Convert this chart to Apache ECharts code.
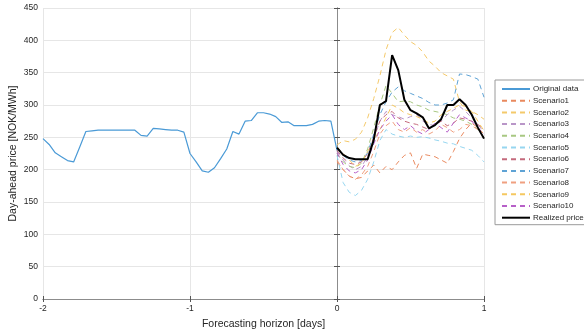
<!DOCTYPE html>
<html><head><meta charset="utf-8">
<script src="https://cdn.jsdelivr.net/npm/echarts@6/dist/echarts.min.js"></script>
<style>html,body{margin:0;padding:0;background:#fff}#c{width:584px;height:336px}</style>
</head><body><div id="c"></div>
<script>
// Hourly values; history covers -2..0 days, scenarios 0..1 day
const originalData = [248,239,226,220,214,212,235,259,260,261,261,261,261,261,261,261,253,252,264,263,262,261,261,258,225,212,198,196,203,217,232,259,255,275,276,288,288,286,282,273,274,268,268,268,270,275,276,275,230];
const scenario1 = [212,200,190,186,188,198,207,195,205,200,212,222,226,202,224,222,220,215,210,228,248,262,272,265,255];
const scenario2 = [238,245,243,247,258,280,310,345,385,412,420,408,398,392,382,368,360,350,345,340,305,292,290,285,278];
const scenario3 = [228,215,206,200,205,220,248,275,290,285,282,278,282,285,275,270,268,275,285,292,298,290,280,270,258];
const scenario4 = [225,212,205,203,210,232,265,300,330,318,305,306,305,300,297,292,290,288,285,280,278,275,270,262,250];
const scenario5 = [222,180,165,160,168,185,212,245,262,255,252,250,252,250,251,249,246,244,241,240,236,233,230,222,212];
const scenario6 = [230,218,210,208,212,225,250,275,285,290,280,275,272,270,266,262,270,275,268,272,280,278,275,270,262];
const scenario7 = [232,222,215,212,214,226,255,285,305,320,328,322,318,314,310,304,300,300,303,308,348,347,344,340,312];
const scenario8 = [215,200,190,185,192,205,228,255,268,275,262,258,265,258,262,255,260,270,265,258,262,270,268,262,250];
const scenario9 = [235,225,215,205,210,228,245,262,280,300,295,288,285,282,278,272,275,285,290,295,300,298,290,275,260];
const scenario10 = [226,208,198,195,200,215,240,262,275,285,270,262,268,260,255,262,272,265,258,272,285,280,275,265,255];
const realizedPrice = [234,223,218,216,216,216,246,300,306,377,354,308,292,287,281,264,269,278,300,300,309,300,285,265,248];
const xTicks = [-2,-1,0,1];
const yTicks = [0,50,100,150,200,250,300,350,400,450];

const scenarios = [scenario1,scenario2,scenario3,scenario4,scenario5,scenario6,scenario7,scenario8,scenario9,scenario10];
const scenColors = ['#e9895e','#f4c96a','#b996c8','#a8c882','#96d6f0','#c46a7c','#5fa3d5','#f0a080','#f5c860','#b760c8'];

const hist = originalData.map((v,i)=>[-2 + i/24, v]);
const fut = arr => arr.map((v,i)=>[i/24, v]);
const FONT = 'Liberation Sans';

const series = [{
  name:'Original data', type:'line', data:hist, showSymbol:false, symbol:'none',
  lineStyle:{color:'#4a9ad6', width:1.2}, itemStyle:{color:'#4a9ad6'}, z:3
}];
scenarios.forEach((s,k)=>{
  series.push({name:'Scenario'+(k+1), type:'line', data:fut(s), showSymbol:false, symbol:'none',
    lineStyle:{color:scenColors[k], width:1, type:[5,4]}, itemStyle:{color:scenColors[k]}, z:3});
});
series.push({name:'Realized price', type:'line', data:fut(realizedPrice), showSymbol:false, symbol:'none',
  lineStyle:{color:'#000', width:2}, itemStyle:{color:'#000'}, z:5});

const axisCommon = {
  axisLine:{show:true, lineStyle:{color:'#8c8c8c', width:1}},
  axisTick:{show:true, inside:true, length:3, lineStyle:{color:'#555'}},
  splitLine:{show:true, lineStyle:{color:'#e6e6e6', width:1}}
};

const chart = echarts.init(document.getElementById('c'), null, {renderer:'canvas'});
chart.setOption({
  animation:false,
  textStyle:{fontFamily:FONT},
  grid:{left:43, right:100, top:8, bottom:37, containLabel:false, outerBoundsMode:'none'},
  legend:{
    orient:'vertical', left:495, top:80,
    padding:[5,30,3,6], itemGap:3.7, itemWidth:28, itemHeight:8,
    borderColor:'#9a9a9a', borderWidth:1, backgroundColor:'#fff',
    itemStyle:{opacity:0},
    textStyle:{fontFamily:FONT, fontSize:8, color:'#262626', lineHeight:8, padding:[0,0,0,-2]},
    data: series.map(s=>s.name)
  },
  xAxis:[{
    type:'value', min:-2, max:1, interval:1, ...axisCommon,
    name:'Forecasting horizon [days]', nameLocation:'middle', nameGap:20, nameMoveOverlap:false,
    nameTextStyle:{fontFamily:FONT, fontSize:10.5, color:'#262626'},
    axisLabel:{fontFamily:FONT, fontSize:8.5, color:'#262626', margin:5, formatter:v=>xTicks.includes(v)?String(v):''}
  },{
    type:'value', position:'top', min:-2, max:1, interval:1,
    axisLine:{show:true, lineStyle:{color:'#8c8c8c'}}, axisTick:{show:true, inside:true, length:3, lineStyle:{color:'#555'}},
    axisLabel:{show:false}, splitLine:{show:false}
  }],
  yAxis:[{
    type:'value', min:0, max:450, interval:50, ...axisCommon,
    name:'Day-ahead price [NOK/MWh]', nameLocation:'middle', nameGap:24, nameMoveOverlap:false,
    nameTextStyle:{fontFamily:FONT, fontSize:10.5, color:'#262626'},
    axisLabel:{fontFamily:FONT, fontSize:8.5, color:'#262626', margin:5, formatter:v=>yTicks.includes(v)?String(v):''}
  },{
    type:'value', position:'right', min:0, max:450, interval:50,
    axisLine:{show:true, lineStyle:{color:'#8c8c8c'}}, axisTick:{show:true, inside:true, length:3, lineStyle:{color:'#555'}},
    axisLabel:{show:false}, splitLine:{show:false}
  }],
  series: series
});
</script></body></html>
